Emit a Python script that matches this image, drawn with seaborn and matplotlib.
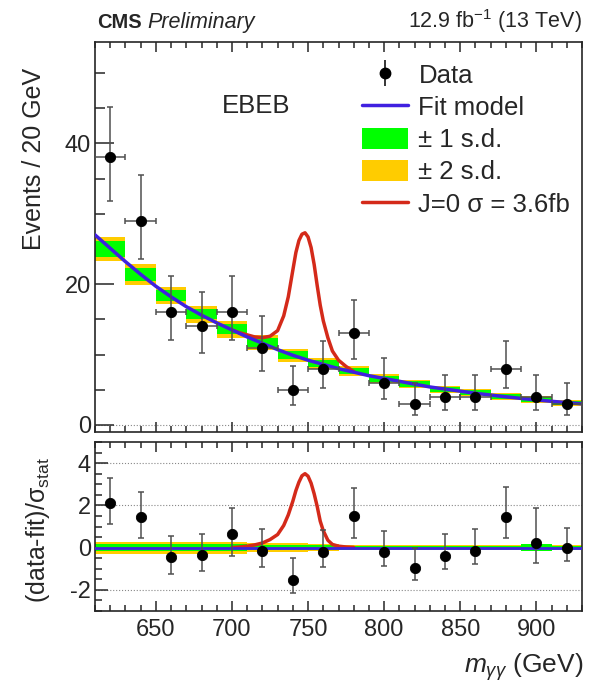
import numpy as np
import matplotlib
matplotlib.use("Agg")
import matplotlib.pyplot as plt
import seaborn as sns
from matplotlib.lines import Line2D
from matplotlib.patches import Patch
from matplotlib.ticker import MultipleLocator

sns.set_style("ticks")
plt.rcParams['font.family'] = ['Liberation Sans', 'DejaVu Sans']
plt.rcParams['mathtext.fontset'] = 'custom'
plt.rcParams['mathtext.rm'] = 'Liberation Sans'
plt.rcParams['mathtext.it'] = 'Liberation Sans:italic'
plt.rcParams['mathtext.bf'] = 'Liberation Sans:bold'
plt.rcParams['axes.unicode_minus'] = False

# data points (20 GeV bins)
mass = [620, 640, 660, 680, 700, 720, 740, 760, 780, 800, 820, 840, 860, 880, 900, 920]
events = [38, 29, 16, 14, 16, 11, 5, 8, 13, 6, 3, 4, 4, 8, 4, 3]
err_lo = [6.14, 5.36, 3.96, 3.72, 3.96, 3.28, 2.16, 2.77, 3.58, 2.38, 1.63, 1.91, 1.91, 2.77, 1.91, 1.63]
err_hi = [7.23, 6.44, 5.10, 4.86, 5.10, 4.45, 3.38, 3.95, 4.73, 3.58, 2.92, 3.16, 3.16, 3.95, 3.16, 2.92]

# background fit curve
fit_x = [610, 620, 630, 640, 650, 660, 670, 680, 690, 700, 710, 720, 730, 740, 750, 760, 770,
         780, 790, 800, 810, 820, 830, 840, 850, 860, 870, 880, 890, 900, 910, 920, 930]
fit_y = [27.0, 25.1, 23.2, 21.4, 19.7, 18.2, 16.8, 15.6, 14.5, 13.5, 12.5, 11.6, 10.7, 9.9, 9.2,
         8.6, 8.0, 7.5, 7.0, 6.6, 6.2, 5.8, 5.4, 5.1, 4.8, 4.5, 4.25, 4.0, 3.77, 3.56, 3.36, 3.18, 3.0]

# uncertainty bands per bin
band_mid = [25.0, 21.4, 18.4, 15.75, 13.6, 11.75, 9.9, 8.7, 7.7, 6.55, 5.85, 5.05, 4.55, 4.05, 3.6, 3.15]
band1 = [1.1, 0.9, 0.75, 0.75, 0.75, 0.65, 0.6, 0.5, 0.45, 0.4, 0.4, 0.35, 0.35, 0.3, 0.35, 0.3]
band2 = [1.7, 1.45, 1.25, 1.2, 1.2, 1.05, 0.95, 0.8, 0.7, 0.65, 0.6, 0.55, 0.5, 0.5, 0.5, 0.45]

# signal + background (J=0, 3.6 fb)
sig_x = [700, 705, 710, 715, 720, 725, 730, 734, 737, 740, 742, 744, 746, 748, 750, 752, 754,
         756, 758, 760, 763, 766, 770, 775, 780]
sig_y = [13.5, 13.1, 12.8, 12.5, 12.4, 12.6, 13.4, 15.5, 18.2, 22.0, 24.5, 26.2, 27.1, 27.3, 26.7,
         25.2, 22.8, 19.8, 17.0, 14.8, 12.4, 10.5, 9.2, 8.3, 7.6]

# pulls
pull = [2.12, 1.43, -0.45, -0.34, 0.63, -0.17, -1.52, -0.19, 1.50, -0.19, -0.97, -0.38, -0.14, 1.46, 0.24, -0.03]
pull_lo = [1.0, 0.99, 0.78, 0.77, 1.02, 0.73, 0.63, 0.71, 1.03, 0.67, 0.58, 0.61, 0.64, 1.02, 0.98, 0.58]
pull_hi = [1.18, 1.21, 1.0, 0.97, 1.26, 1.04, 1.02, 1.02, 1.30, 0.99, 0.97, 1.01, 1.01, 1.42, 1.65, 0.97]
pull_band1 = [0.17, 0.17, 0.17, 0.17, 0.17, 0.13, 0.13, 0.12, 0.1, 0.1, 0.1, 0.1, 0.1, 0.1, 0.17, 0.1]
pull_band2 = [0.28, 0.28, 0.28, 0.28, 0.28, 0.22, 0.22, 0.15, 0.13, 0.13, 0.13, 0.13, 0.13, 0.13, 0.13, 0.13]
pull_sig = [0.0, 0.03, 0.07, 0.13, 0.22, 0.38, 0.62, 1.05, 1.55, 2.2, 2.7, 3.1, 3.4, 3.5, 3.38,
            3.05, 2.55, 1.95, 1.25, 0.8, 0.35, 0.15, 0.07, 0.03, 0.01]

GREEN = '#00ff00'
YELLOW = '#ffcc00'
BLUE = '#4020e0'
RED = '#d42a1a'
ECOL = '#505050'

fig = plt.figure(figsize=(5.98, 6.91), dpi=100)
ax = fig.add_axes([95 / 598, 1 - 432 / 691, 487 / 598, 390 / 691])
axr = fig.add_axes([95 / 598, 1 - 611 / 691, 487 / 598, 169 / 691])

# ---- main panel
ax.axhline(0, color='#888888', lw=0.8, ls=':', zorder=0)
ax.bar(mass, [2 * h for h in band2], bottom=[m - h for m, h in zip(band_mid, band2)],
       width=20, color=YELLOW, linewidth=0, zorder=1)
ax.bar(mass, [2 * h for h in band1], bottom=[m - h for m, h in zip(band_mid, band1)],
       width=20, color=GREEN, linewidth=0, zorder=2)
sns.lineplot(x=sig_x, y=sig_y, ax=ax, color=RED, lw=2.5, zorder=3)
sns.lineplot(x=fit_x, y=fit_y, ax=ax, color=BLUE, lw=2.5, zorder=4)
ax.errorbar(mass, events, yerr=[err_lo, err_hi], xerr=10, fmt='none', ecolor=ECOL,
            elinewidth=1.1, capsize=2.2, capthick=1.1, zorder=5)
sns.scatterplot(x=mass, y=events, ax=ax, color='black', s=55, edgecolor='black', zorder=6)

ax.set_xlim(610, 930)
ax.set_ylim(-1, 54.4)
ax.yaxis.set_major_locator(MultipleLocator(20))
ax.yaxis.set_minor_locator(MultipleLocator(5))
ax.xaxis.set_major_locator(MultipleLocator(50))
ax.xaxis.set_minor_locator(MultipleLocator(10))
ax.tick_params(axis='both', which='both', direction='in', top=True, right=False, labelbottom=False,
               labelsize=17, width=1.1)
ax.tick_params(axis='y', which='major', length=14, pad=3)
ax.tick_params(axis='y', which='minor', length=7)
ax.tick_params(axis='x', which='major', length=7)
ax.tick_params(axis='x', which='minor', length=4)
ax.set_xlabel('')
ax.set_ylabel('')
for sp in ax.spines.values():
    sp.set_linewidth(1.2)

ax.text(0.33, 0.818, 'EBEB', transform=ax.transAxes, fontsize=18.5, ha='center', va='baseline')

data_h = ax.errorbar([np.nan], [np.nan], yerr=[1.0], fmt='o', color='black', ecolor='black',
                     ms=7.5, elinewidth=1.1)
handles = [data_h,
           Line2D([], [], color=BLUE, lw=2.5),
           Patch(facecolor=GREEN, edgecolor='none'),
           Patch(facecolor=YELLOW, edgecolor='none'),
           Line2D([], [], color=RED, lw=2.5)]
labels = ['Data', 'Fit model', '± 1 s.d.', '± 2 s.d.', 'J=0 σ = 3.6fb']
ax.legend(handles, labels, loc='upper left', bbox_to_anchor=(0.548, 0.946), frameon=False,
          fontsize=18.5, handlelength=1.8, handleheight=0.9, handletextpad=0.4,
          labelspacing=0.3, borderpad=0, borderaxespad=0)

# ---- pull panel
for yv in [-2, 2, 4]:
    axr.axhline(yv, color='#888888', lw=0.8, ls=':', zorder=0)
axr.bar(mass, [2 * h for h in pull_band2], bottom=[-h for h in pull_band2],
        width=20, color=YELLOW, linewidth=0, zorder=1)
axr.bar(mass, [2 * h for h in pull_band1], bottom=[-h for h in pull_band1],
        width=20, color=GREEN, linewidth=0, zorder=2)
sns.lineplot(x=sig_x, y=pull_sig, ax=axr, color=RED, lw=2.5, zorder=3)
sns.lineplot(x=[610, 930], y=[0, 0], ax=axr, color=BLUE, lw=2.0, zorder=4)
axr.errorbar(mass, pull, yerr=[pull_lo, pull_hi], fmt='none', ecolor=ECOL,
             elinewidth=1.1, capsize=2.2, capthick=1.1, zorder=5)
sns.scatterplot(x=mass, y=pull, ax=axr, color='black', s=55, edgecolor='black', zorder=6)

axr.set_xlim(610, 930)
axr.set_ylim(-3, 5)
axr.yaxis.set_major_locator(MultipleLocator(2))
axr.yaxis.set_minor_locator(MultipleLocator(0.5))
axr.xaxis.set_major_locator(MultipleLocator(50))
axr.xaxis.set_minor_locator(MultipleLocator(10))
axr.tick_params(axis='both', which='both', direction='in', top=True, right=False,
                labelsize=17, width=1.1)
axr.tick_params(axis='y', which='major', length=9, pad=3)
axr.tick_params(axis='y', which='minor', length=5)
axr.tick_params(axis='x', which='major', length=7, pad=6)
axr.tick_params(axis='x', which='minor', length=4)
axr.set_yticks([-2, 0, 2, 4])
axr.set_xlabel('')
axr.set_ylabel('')
for sp in axr.spines.values():
    sp.set_linewidth(1.2)

# ---- labels
fig.text(97 / 598, 1 - 28 / 691, 'CMS', fontsize=14.5, fontweight='bold', ha='left', va='baseline')
fig.text(147 / 598, 1 - 28 / 691, 'Preliminary', fontsize=15.5, style='italic', ha='left', va='baseline')
fig.text(582 / 598, 1 - 28 / 691, '12.9 fb$^{\\mathregular{-1}}$ (13 TeV)', fontsize=15.5,
         ha='right', va='baseline')
fig.text(34 / 598, 1 - 159 / 691, 'Events / 20 GeV', fontsize=18, rotation=90, ha='center', va='center')
fig.text(38 / 598, 1 - 530 / 691, '(data-fit)/σ$_{\\mathregular{stat}}$', fontsize=18, rotation=90,
         ha='center', va='center')
fig.text(583 / 598, 1 - 673 / 691, '$m_{\\gamma\\gamma}$ (GeV)', fontsize=19, ha='right', va='baseline')

fig.savefig('out.png', dpi=100)
